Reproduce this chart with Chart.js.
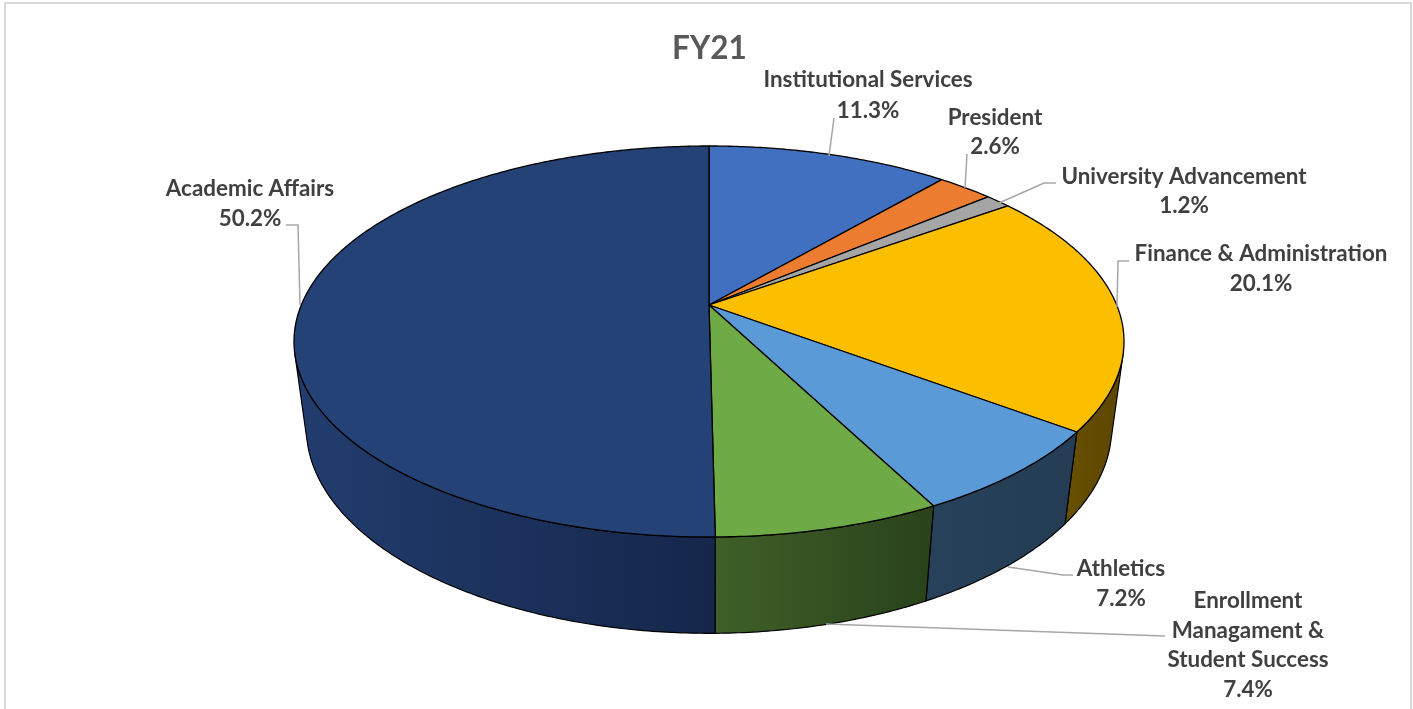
<!DOCTYPE html>
<html>
<head>
<meta charset="utf-8">
<title>FY21</title>
<script src="https://cdn.jsdelivr.net/npm/chart.js@4"></script>
<style>
  html, body { margin: 0; padding: 0; background: #fff; }
  canvas { display: block; }
</style>
</head>
<body>
<canvas id="chart" width="1413" height="709"></canvas>
<script>
const chartTitle = 'FY21';
const categories = [
  'Institutional Services',
  'President',
  'University Advancement',
  'Finance & Administration',
  'Athletics',
  'Enrollment Managament & Student Success',
  'Academic Affairs',
];
const values = [11.3, 2.6, 1.2, 20.1, 7.2, 7.4, 50.2];

const topColors = ['#4170c0', '#ec7c30', '#a5a5a5', '#fcbf00', '#5a9ad6', '#6eab47', '#254276'];
// side wall colours, left -> right across the slice
const sideColors = [
  ['#000', '#000'],
  ['#000', '#000'],
  ['#000', '#000'],
  ['#675000', '#5c4600'],
  ['#264159', '#243d55'],
  ['#3f6028', '#2a421b'],
  ['#223d6e', '#15264a'],
];

// label text lines and where they sit, same order as categories
const labelLines = [
  ['Institutional Services'],
  ['President'],
  ['University Advancement'],
  ['Finance & Administration'],
  ['Athletics'],
  ['Enrollment', 'Managament &', 'Student Success'],
  ['Academic Affairs'],
];
const labelPos = [
  [868, 80, 30.5], [995, 118, 29], [1184, 177, 29], [1261, 254, 30],
  [1121, 569, 30], [1248, 601, 29.5], [250, 189, 30],
];
const leaders = [
  [[834, 118], [829, 156]],
  [[967, 154], [965, 188]],
  [[1056, 183], [1044, 183], [999, 203]],
  [[1129, 261], [1118, 261], [1117, 307]],
  [[1073, 575], [1063, 575], [1008, 567]],
  [[1165, 636], [826, 624]],
  [[286, 225], [298, 225], [300, 305]],
];

// perspective of the pie, apex at (cx, cy)
const cx = 709, cy = 305;
const A = 407.7, B = 188.7, K = 0.1867;
const M = 0.0295, C = 88;

function project(theta, z) {
  const u = Math.sin(theta), v = Math.cos(theta);
  const w = 1 + K * v + M * z;
  return { x: cx + A * u / w, y: cy + (-B * v + C * z) / w };
}

// where the side wall turns away from the viewer
function facing(theta) {
  const e = 0.002;
  const a = project(theta - e, 0), b = project(theta + e, 0);
  const t = project(theta, 0), d = project(theta, 1);
  return (b.x - a.x) * (d.y - t.y) - (b.y - a.y) * (d.x - t.x);
}
function findEdge(lo, hi) {
  const s = Math.sign(facing(lo));
  for (let i = 0; i < 40; i++) {
    const mid = (lo + hi) / 2;
    if (Math.sign(facing(mid)) === s) lo = mid; else hi = mid;
  }
  return lo;
}
const sideStart = findEdge(Math.PI * 0.2, Math.PI * 0.9);
const sideEnd = findEdge(Math.PI * 1.1, Math.PI * 1.8);

function arcPoints(a, b, z) {
  const n = Math.max(2, Math.ceil(Math.abs(b - a) / 0.01));
  const pts = [];
  for (let i = 0; i <= n; i++) pts.push(project(a + (b - a) * i / n, z));
  return pts;
}

function tracePath(ctx, pts) {
  ctx.beginPath();
  pts.forEach((p, i) => (i ? ctx.lineTo(p.x, p.y) : ctx.moveTo(p.x, p.y)));
  ctx.closePath();
}

const pie3d = {
  id: 'pie3d',
  beforeDatasetsDraw(chart) {
    const ctx = chart.ctx;
    const arcs = chart.getDatasetMeta(0).data;
    const slices = arcs.map((arc) => ({
      a: arc.startAngle + Math.PI / 2,
      b: arc.endAngle + Math.PI / 2,
    }));

    ctx.save();
    ctx.lineJoin = 'round';
    ctx.strokeStyle = '#000';

    // side walls first, top faces go over them
    slices.forEach((s, i) => {
      const a = Math.max(s.a, sideStart), b = Math.min(s.b, sideEnd);
      if (b <= a) return;
      const upper = arcPoints(a, b, 0);
      const lower = arcPoints(b, a, 1);
      const all = upper.concat(lower);
      const xs = all.map((p) => p.x);
      const g = ctx.createLinearGradient(Math.min(...xs), 0, Math.max(...xs), 0);
      g.addColorStop(0, sideColors[i][0]);
      g.addColorStop(1, sideColors[i][1]);
      tracePath(ctx, all);
      ctx.fillStyle = g;
      ctx.fill();
      ctx.lineWidth = 1.2;
      ctx.stroke();
    });

    slices.forEach((s, i) => {
      tracePath(ctx, [{ x: cx, y: cy }].concat(arcPoints(s.a, s.b, 0)));
      ctx.fillStyle = topColors[i];
      ctx.fill();
      ctx.lineWidth = 1.3;
      ctx.stroke();
    });
    ctx.restore();
    return false;
  },
  afterDraw(chart) {
    const ctx = chart.ctx;
    ctx.save();

    // frame of the pasted chart, open at the bottom
    ctx.strokeStyle = '#d9d9d9';
    ctx.lineWidth = 2;
    ctx.beginPath();
    ctx.moveTo(5, 709);
    ctx.lineTo(5, 3);
    ctx.lineTo(1411, 3);
    ctx.lineTo(1411, 709);
    ctx.stroke();

    ctx.strokeStyle = '#a6a6a6';
    ctx.lineWidth = 1.5;
    leaders.forEach((line) => {
      ctx.beginPath();
      line.forEach((p, i) => (i ? ctx.lineTo(p[0], p[1]) : ctx.moveTo(p[0], p[1])));
      ctx.stroke();
    });

    ctx.fillStyle = '#404040';
    ctx.font = 'bold 22.4px Lato';
    ctx.textAlign = 'center';
    ctx.textBaseline = 'middle';
    categories.forEach((name, i) => {
      const [x, y, gap] = labelPos[i];
      const lines = labelLines[i].concat(values[i].toFixed(1) + '%');
      lines.forEach((t, j) => ctx.fillText(t, x, y + j * gap));
    });
    ctx.restore();
  },
};

new Chart(document.getElementById('chart'), {
  type: 'pie',
  data: {
    labels: categories,
    datasets: [{ data: values, backgroundColor: topColors }],
  },
  options: {
    responsive: false,
    animation: false,
    layout: { padding: { top: 30, left: 6 } },
    plugins: {
      legend: { display: false },
      tooltip: { enabled: false },
      title: {
        display: true,
        text: chartTitle,
        color: '#595959',
        font: { family: 'Lato', size: 31.5, weight: 'bold' },
        padding: 0,
      },
    },
  },
  plugins: [pie3d],
});
</script>
</body>
</html>
